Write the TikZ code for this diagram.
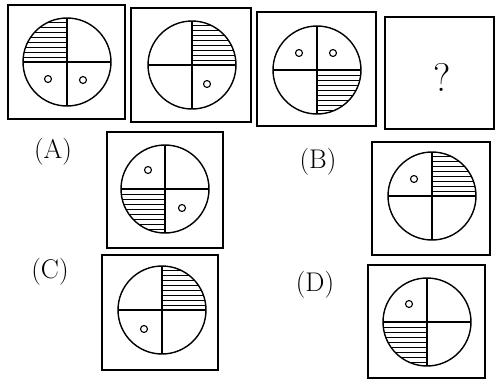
\documentclass[tikz,border=0pt]{standalone}

% hatch one quadrant of a dial: node, x sign, y sign
\newcommand{\hatchquad}[3]{%
  \begin{scope}[shift={(#1)}]
    \clip (0,0) circle (44);
    \clip (0,0) rectangle (#2*46,#3*46);
    \foreach \h in {0,5,...,45}
      \draw[hatch] (-46,#3*\h) -- (46,#3*\h);
  \end{scope}}

\begin{document}
\begin{tikzpicture}[
        x=1pt,
        y=-1pt,
        panel/.style={draw, line width=1.7pt, inner sep=0pt},
        dial/.style={draw, circle, line width=1.4pt, minimum size=88pt, inner sep=0pt, outer sep=0pt},
        cross/.style={line width=1.4pt},
        hatch/.style={line width=0.8pt},
        dot/.style={draw, circle, line width=1.1pt, minimum size=7pt, inner sep=0pt},
        optlabel/.style={font=\fontsize{27}{30}\selectfont}
    ]
        \useasboundingbox (0,0) rectangle (496,381);

        % Frames
        \node[panel, minimum width=117pt, minimum height=114pt] (b1) at (66.5,62){};
        \node[panel, minimum width=120pt, minimum height=114pt] (b2) at (191,65){};
        \node[panel, minimum width=119pt, minimum height=114pt] (b3) at (316.5,69){};
        \node[panel, minimum width=109pt, minimum height=112pt] (b4) at (439.5,73){};
        \node[panel, minimum width=116pt, minimum height=116pt] (ba) at (165,190){};
        \node[panel, minimum width=118pt, minimum height=113pt] (bb) at (431,198.5){};
        \node[panel, minimum width=116pt, minimum height=115pt] (bc) at (160,312.5){};
        \node[panel, minimum width=117pt, minimum height=113pt] (bd) at (426.5,321.5){};

        % Dials
        \node[dial] (f1) at (67,62){};
        \node[dial] (f2) at (192,65){};
        \node[dial] (f3) at (317,70){};
        \node[dial] (fa) at (165,189){};
        \node[dial] (fb) at (432,196){};
        \node[dial] (fc) at (162,310){};
        \node[dial] (fd) at (427,322){};

        % Quadrant lines
        \foreach \f in {f1,f2,f3,fa,fb,fc,fd}
            \draw[cross] (\f.north) -- (\f.south) (\f.west) -- (\f.east);

        % Shaded quadrants
        \hatchquad{f1}{-1}{-1}
        \hatchquad{f2}{1}{-1}
        \hatchquad{f3}{1}{1}
        \hatchquad{fa}{-1}{1}
        \hatchquad{fb}{1}{-1}
        \hatchquad{fc}{1}{-1}
        \hatchquad{fd}{-1}{1}

        % Small circles
        \node[dot] (f1d1) at ([shift={(-19,17)}]f1){};
        \node[dot] (f1d2) at ([shift={(16,18)}]f1){};
        \node[dot] (f2d1) at ([shift={(15,19)}]f2){};
        \node[dot] (f3d1) at ([shift={(-18,-17)}]f3){};
        \node[dot] (f3d2) at ([shift={(16,-17)}]f3){};
        \node[dot] (fad1) at ([shift={(-17,-19)}]fa){};
        \node[dot] (fad2) at ([shift={(17,19)}]fa){};
        \node[dot] (fbd1) at ([shift={(-18,-17)}]fb){};
        \node[dot] (fcd1) at ([shift={(-18,19)}]fc){};
        \node[dot] (fdd1) at ([shift={(-18,-18)}]fd){};

        % Question mark and option labels
        \node[font=\fontsize{40}{44}\selectfont] (qm) at (442,77){?};
        \node[optlabel] (la) at (53,152){(A)};
        \node[optlabel] (lb) at (318,162){(B)};
        \node[optlabel] (lc) at (50,272){(C)};
        \node[optlabel] (ld) at (315,285){(D)};
    \end{tikzpicture}
\end{document}
